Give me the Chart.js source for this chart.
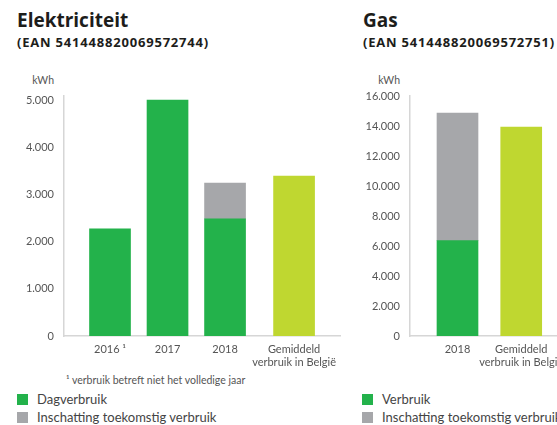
<!DOCTYPE html>
<html lang="nl">
<head>
<meta charset="utf-8">
<script src="https://cdn.jsdelivr.net/npm/chart.js@4/dist/chart.umd.min.js"></script>
<style>
  html, body { margin: 0; padding: 0; background: #fff; }
  body { width: 557px; height: 425px; overflow: hidden; position: relative; }
  .abs { position: absolute; white-space: nowrap; }
  .title { font: bold 19px/1 'Open Sans', sans-serif; color: #1d1d1b; }
  .sub { font: bold 13px/1 'Open Sans', sans-serif; color: #1d1d1b; letter-spacing: 0.8px; }
  .unit { font: 10.5px/1 Lato, sans-serif; color: #555; text-align: right; width: 40px; }
  .note { font: 10.5px/1 Lato, sans-serif; color: #555; }
  .leg { font: 13px/13px Lato, sans-serif; color: #444; display: flex; align-items: center; }
  .leg i { display: inline-block; width: 11px; height: 11px; margin-right: 9px; }
  canvas { position: absolute; top: 0; }
</style>
</head>
<body>

<div class="abs title" style="left:17px;top:11px">Elektriciteit</div>
<div class="abs sub" style="left:17px;top:36px">(EAN 541448820069572744)</div>
<div class="abs unit" style="left:14px;top:75px">kWh</div>

<div class="abs title" style="left:363px;top:11px">Gas</div>
<div class="abs sub" style="left:363px;top:36px">(EAN 541448820069572751)</div>
<div class="abs unit" style="left:360px;top:75px">kWh</div>

<canvas id="elec" width="343" height="372" style="left:0"></canvas>
<canvas id="gas" width="240" height="372" style="left:360px"></canvas>

<div class="abs note" style="left:66px;top:375px">¹ verbruik betreft niet het volledige jaar</div>

<div class="abs leg" style="left:17px;top:393px"><i style="background:#23b24b"></i>Dagverbruik</div>
<div class="abs leg" style="left:17px;top:411px"><i style="background:#a6a7aa"></i>Inschatting toekomstig verbruik</div>

<div class="abs leg" style="left:362px;top:393px"><i style="background:#23b24b"></i>Verbruik</div>
<div class="abs leg" style="left:362px;top:411px"><i style="background:#a6a7aa"></i>Inschatting toekomstig verbruik</div>

<script>
// --- data ---
const ELEC_LABELS = ['2016 ¹', '2017', '2018', ['Gemiddeld', 'verbruik in België']];
const ELEC_SLOTS = [0, 1, 2, 3.2];
const ELEC_DAG = [2270, 5000, 2480, null];
const ELEC_SCHATTING = [null, null, 760, null];
const ELEC_GEMIDDELD = [null, null, null, 3390];
const ELEC_TICKS = [0, 1000, 2000, 3000, 4000, 5000];

const GAS_LABELS = ['2018', ['Gemiddeld', 'verbruik in België']];
const GAS_SLOTS = [0, 1.1];
const GAS_VERBRUIK = [6360, null];
const GAS_SCHATTING = [8500, null];
const GAS_GEMIDDELD = [null, 13920];
const GAS_TICKS = [0, 2000, 4000, 6000, 8000, 10000, 12000, 14000, 16000];

// --- stijl ---
const GREEN = '#23b24b';
const GREY = '#a6a7aa';
const LIME = '#bfd730';
const AXIS = '#d6d6d6';
const TEXT = '#555';

// 5000 -> "5.000"
function fmt(v) {
  return String(v).replace(/\B(?=(\d{3})+(?!\d))/g, '.');
}

function points(slots, values) {
  return values.map((v, i) => ({ x: slots[i], y: v }));
}

function barSet(slots, values, color) {
  return {
    data: points(slots, values),
    backgroundColor: color,
    borderWidth: 0,
    barThickness: 41,
    grouped: false,
  };
}

function makeChart(canvas, cfg) {
  return new Chart(canvas, {
    type: 'bar',
    data: { datasets: cfg.datasets },
    options: {
      responsive: false,
      animation: false,
      layout: { padding: { top: 96, left: 0, right: 0, bottom: 0 } },
      plugins: { legend: { display: false }, tooltip: { enabled: false } },
      scales: {
        x: {
          type: 'linear',
          min: cfg.xMin,
          max: cfg.xMax,
          offset: false,
          stacked: true,
          grid: { display: false, drawTicks: false, offset: false },
          border: { color: AXIS, width: 1.5 },
          afterBuildTicks: (s) => { s.ticks = cfg.slots.map(v => ({ value: v })); },
          afterFit: (s) => { s.height = 36; },
          ticks: {
            autoSkip: false,
            maxRotation: 0,
            padding: 7,
            color: TEXT,
            font: { family: 'Lato', size: 11, lineHeight: 1.2 },
            callback: (v, i) => cfg.labels[i],
          },
        },
        y: {
          min: 0,
          max: cfg.yMax,
          stacked: true,
          grid: { display: false, drawTicks: false },
          border: { color: AXIS, width: 1.5 },
          afterBuildTicks: (s) => { s.ticks = cfg.yTicks.map(v => ({ value: v })); },
          afterFit: (s) => { s.width = cfg.yWidth; },
          ticks: {
            padding: 10,
            color: TEXT,
            font: { family: 'Lato', size: 11 },
            callback: (v) => fmt(v),
          },
        },
      },
    },
  });
}

makeChart(document.getElementById('elec'), {
  labels: ELEC_LABELS,
  slots: ELEC_SLOTS,
  xMin: -0.8,
  xMax: 4.0,
  yMax: 5085,
  yTicks: ELEC_TICKS,
  yWidth: 64,
  datasets: [
    barSet(ELEC_SLOTS, ELEC_DAG, GREEN),
    barSet(ELEC_SLOTS, ELEC_SCHATTING, GREY),
    barSet(ELEC_SLOTS, ELEC_GEMIDDELD, LIME),
  ],
});

makeChart(document.getElementById('gas'), {
  labels: GAS_LABELS,
  slots: GAS_SLOTS,
  xMin: -0.82,
  xMax: 2.46,
  yMax: 16000,
  yTicks: GAS_TICKS,
  yWidth: 50,
  datasets: [
    barSet(GAS_SLOTS, GAS_VERBRUIK, GREEN),
    barSet(GAS_SLOTS, GAS_SCHATTING, GREY),
    barSet(GAS_SLOTS, GAS_GEMIDDELD, LIME),
  ],
});
</script>
</body>
</html>
